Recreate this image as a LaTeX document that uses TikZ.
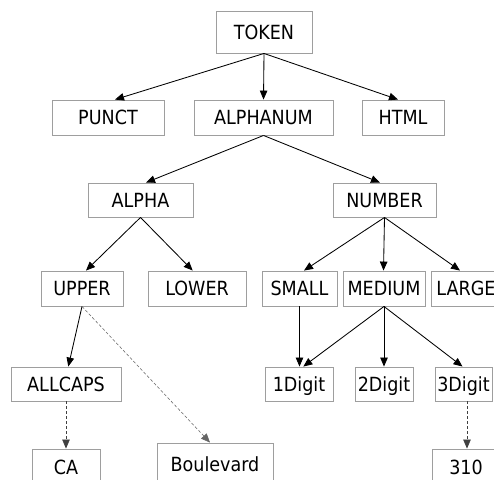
\documentclass[tikz,border=0pt]{standalone}
\usepackage{fontspec}
\setmainfont{DejaVu Sans Condensed}
\usetikzlibrary{arrows.meta}
\begin{document}
\begin{tikzpicture}[x=1pt,y=-1pt,
  box/.style={draw=black!38, line width=0.9pt, rectangle, inner sep=0pt,
    font=\fontsize{19.5}{21}\selectfont, text height=14pt, text depth=0pt, fill=white},
  arr/.style={line width=0.85pt, -{Triangle[length=9pt,width=7.5pt]}},
  darr/.style={line width=0.7pt, draw=black!75, dash pattern=on 3pt off 2pt, -{Triangle[length=9pt,width=7.5pt]}}
]
\useasboundingbox (0,0) rectangle (494,479);
\fill[white] (0,0) rectangle (494,479);
% nodes
\node[box, minimum width=96pt, minimum height=42pt] (token) at (264,32) {TOKEN};
\node[box, minimum width=112pt, minimum height=35pt] (punct) at (108,117.5) {PUNCT};
\node[box, minimum width=139pt, minimum height=35pt] (alphanum) at (263.5,117.5) {ALPHANUM};
\node[box, minimum width=82pt, minimum height=35pt] (html) at (403,117.5) {HTML};
\node[box, minimum width=105pt, minimum height=34pt] (alpha) at (140.5,200) {ALPHA};
\node[box, minimum width=103pt, minimum height=34pt] (number) at (384.5,200) {NUMBER};
\node[box, minimum width=82pt, minimum height=35pt] (upper) at (82,288.5) {UPPER};
\node[box, minimum width=98pt, minimum height=35pt] (lower) at (197,288.5) {LOWER};
\node[box, minimum width=75pt, minimum height=35pt] (small) at (299.5,288.5) {SMALL};
\node[box, minimum width=82pt, minimum height=35pt] (medium) at (384,288.5) {MEDIUM};
\node[box, minimum width=70pt, minimum height=35pt] (large) at (466,288.5) {LARGE};
\node[box, minimum width=110pt, minimum height=34pt] (allcaps) at (66,384) {ALLCAPS};
\node[box, minimum width=68pt, minimum height=34pt] (d1) at (299,384) {1Digit};
\node[box, minimum width=58pt, minimum height=34pt] (d2) at (384,384) {2Digit};
\node[box, minimum width=57pt, minimum height=34pt] (d3) at (463.5,384) {3Digit};
\node[box, minimum width=68pt, minimum height=36pt] (ca) at (66,467) {CA};
\node[box, minimum width=116pt, minimum height=42pt] (boul) at (215,464) {Boulevard};
\node[box, minimum width=68pt, minimum height=36pt] (n310) at (466,467) {310};
% connectors
\draw[arr] (token.south) -- ([xshift=7pt]punct.north);
\draw[arr] (token.south) -- (alphanum.north);
\draw[arr] (token.south) -- ([xshift=-5pt]html.north);
\draw[arr] (alphanum.south) -- ([xshift=5.5pt]alpha.north);
\draw[arr] (alphanum.south) -- ([xshift=-4.5pt]number.north);
\draw[arr] (alpha.south) -- ([xshift=4pt]upper.north);
\draw[arr] (alpha.south) -- ([xshift=-4.3pt]lower.north);
\draw[arr] (number.south) -- ([xshift=4.5pt]small.north);
\draw[arr] (number.south) -- ([xshift=-0.5pt]medium.north);
\draw[arr] (number.south) -- ([xshift=-6pt]large.north);
\draw[arr] (upper.south) -- ([xshift=2.3pt]allcaps.north);
\draw[darr, draw=black!60, line width=0.55pt] (upper.south) -- ([xshift=-5pt]boul.north);
\draw[darr] (allcaps.south) -- (ca.north);
\draw[arr] (small.south) -- ([xshift=0.5pt]d1.north);
\draw[arr] (medium.south) -- ([xshift=4.3pt]d1.north);
\draw[arr] (medium.south) -- (d2.north);
\draw[arr] (medium.south) -- ([xshift=-1pt]d3.north);
\draw[darr] ([xshift=3.5pt]d3.south) -- ([xshift=1pt]n310.north);
\end{tikzpicture}
\end{document}
